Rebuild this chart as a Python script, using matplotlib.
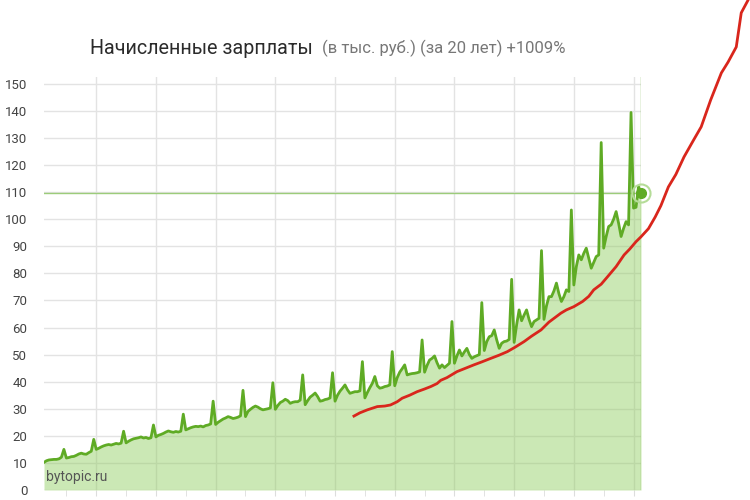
import numpy as np
import matplotlib
matplotlib.use('Agg')
import matplotlib.pyplot as plt

plt.rcParams['font.family'] = ['Roboto', 'DejaVu Sans']

# начисленные зарплаты, тыс. руб., помесячно с апреля 2000 по апрель 2020
salary = [
    10.2, 10.8, 11.1, 11.2, 11.3, 11.3, 11.5, 12.1, 15.0,                    # 2000 (апр-дек)
    11.8, 12.0, 12.3, 12.4, 12.8, 13.3, 13.6, 13.3, 13.2, 13.8, 14.3, 18.7,  # 2001
    15.0, 15.4, 15.9, 16.3, 16.6, 16.8, 16.6, 16.9, 17.2, 17.0, 17.3, 21.7,  # 2002
    17.4, 18.0, 18.5, 18.9, 19.1, 19.3, 19.6, 19.2, 19.4, 19.0, 19.3, 24.0,  # 2003
    19.6, 20.2, 20.5, 20.9, 21.4, 21.8, 21.5, 21.3, 21.6, 21.4, 21.7, 28.0,  # 2004
    22.2, 22.6, 23.0, 23.3, 23.5, 23.4, 23.6, 23.3, 23.8, 24.0, 24.4, 32.8,  # 2005
    24.2, 25.0, 25.6, 26.2, 26.6, 27.1, 26.8, 26.4, 26.6, 26.9, 27.4, 36.8,  # 2006
    27.1, 29.0, 29.8, 30.5, 31.0, 30.6, 30.0, 29.6, 29.8, 30.0, 30.3, 39.6,  # 2007
    29.8, 31.2, 32.3, 32.8, 33.5, 33.0, 32.0, 32.4, 32.6, 32.6, 33.2, 42.5,  # 2008
    31.5, 33.0, 34.3, 35.0, 35.8, 34.5, 32.8, 33.0, 33.4, 33.6, 34.0, 43.3,  # 2009
    32.8, 35.0, 36.5, 37.6, 38.8, 37.0, 35.7, 36.0, 36.3, 36.3, 36.6, 47.4,  # 2010
    34.0, 36.0, 37.8, 39.4, 41.9, 38.5, 37.6, 37.8, 38.2, 38.4, 38.8, 51.1,  # 2011
    38.5, 41.5, 43.5, 44.8, 46.2, 42.5, 42.8, 43.0, 43.1, 43.3, 43.6, 55.4,  # 2012
    43.5, 46.0, 48.0, 48.6, 49.5, 47.0, 45.0, 46.2, 45.2, 46.0, 46.8, 62.2,  # 2013
    46.8, 49.5, 51.7, 49.5, 51.0, 52.3, 50.0, 48.6, 49.2, 49.6, 50.0, 69.2,  # 2014
    51.5, 54.8, 56.6, 57.0, 59.1, 55.4, 52.3, 54.2, 54.8, 55.0, 55.6, 77.8,  # 2015
    54.5, 61.0, 66.5, 62.5, 64.6, 66.5, 63.0, 60.3, 62.2, 62.8, 63.4, 88.4,  # 2016
    63.0, 68.0, 71.4, 71.4, 73.5, 76.4, 72.5, 69.6, 71.4, 73.9, 73.3, 103.4, # 2017
    75.7, 82.5, 86.8, 85.0, 87.4, 89.3, 85.6, 81.9, 84.0, 86.2, 86.8, 128.3, # 2018
    89.3, 93.6, 97.3, 97.9, 100.0, 102.8, 98.5, 93.6, 96.6, 99.1, 97.9, 139.4, # 2019
    104.1, 104.4, 112.0, 109.5,                                              # 2020 (янв-апр)
]
# номер месяца от января 2000 (0 = янв 2000)
months = np.arange(3, 3 + len(salary))

# красная линия (месяц, значение)
red_month = [127.6, 130, 133, 137, 140, 142.3, 145, 147, 150, 153, 156, 158.5, 161, 162.5,
             165, 169, 172, 175.8, 179, 182.6, 186, 189.3, 192.5, 196, 199, 202.8, 206,
             210.8, 213, 216, 219.5, 222, 224, 227, 229.6, 233, 236.2, 238.5, 241, 243,
             246, 248.7, 251, 254, 257, 260.3, 264, 267.2, 271, 275.3, 278, 281.3, 283.3,
             286.1, 288]
red_value = [27.3, 28.5, 29.6, 30.8, 31.0, 31.4, 32.6, 33.9, 35.0, 36.3, 37.3, 38.2, 39.3, 40.5,
             41.5, 43.7, 44.8, 46.2, 47.3, 48.6, 49.8, 51.1, 52.8, 54.8, 56.8, 59.1, 62.0,
             65.3, 66.5, 67.7, 69.6, 71.5, 73.9, 76.0, 78.8, 82.5, 86.8, 89.0, 91.7, 93.5,
             96.5, 100.8, 105.0, 111.9, 116.5, 123.0, 129.0, 134.1, 144.0, 154.0, 158.0, 163.6, 176.2,
             181.0, 186.0]

y_ticks = list(range(0, 151, 10))
grid_months = list(range(24, 241, 24))   # январь чётных лет
year_ticks = list(range(12, 241, 12))

fig = plt.figure(figsize=(7.5, 5), dpi=100)
ax = fig.add_axes([44 / 750, 10 / 500, 597 / 750, 413 / 500])

green = '#5fab25'
ax.fill_between(months, salary, 0, color='#8dcc5c', alpha=0.45, lw=0, zorder=3)
ax.plot(months, salary, color=green, lw=2, zorder=4, solid_joinstyle='round')
ax.plot(red_month, red_value, color='#d9261c', lw=2, zorder=5, clip_on=False)

# перекрестие на последней точке
last_x, last_y = months[-1], salary[-1]
ax.axhline(last_y, color='#9ccc7a', lw=1, zorder=2)
ax.axvline(last_x, color='#8cc063', lw=1, zorder=2)
ax.plot([last_x], [last_y], 'o', ms=13, mfc='none', mec='#b5dc98', mew=1.5, zorder=6, clip_on=False)
ax.plot([last_x], [last_y], 'o', ms=7, color=green, zorder=7, clip_on=False)

ax.set_xlim(months[0], months[-1])
ax.set_ylim(0, 152.5)
ax.set_yticks(y_ticks)
ax.set_xticks(grid_months)
ax.set_xticks(year_ticks, minor=True)
ax.set_xticklabels([])
ax.grid(axis='y', color='#e3e3e3', lw=1, zorder=0)
ax.grid(axis='x', which='major', color='#e3e3e3', lw=1, zorder=0)
ax.tick_params(axis='y', length=0, pad=12, labelsize=9.5, labelcolor='#444444')
ax.tick_params(axis='x', which='both', length=4, color='#dddddd', direction='out')
for s in ax.spines.values():
    s.set_visible(False)

ax.text(4, 3.5, 'bytopic.ru', fontsize=10, color='#555555', zorder=8)

# заголовок из двух частей
t1 = fig.text(90 / 750, 1 - 48 / 500, 'Начисленные зарплаты', fontsize=14.2,
              color='#2b2b2b', va='center', ha='left')
fig.canvas.draw()
bb = t1.get_window_extent()
fig.text((bb.x1 + 9) / 750, 1 - 48 / 500, '(в тыс. руб.) (за 20 лет) +1009%',
         fontsize=12, color='#777777', va='center', ha='left')

fig.savefig('out.png', dpi=100)
